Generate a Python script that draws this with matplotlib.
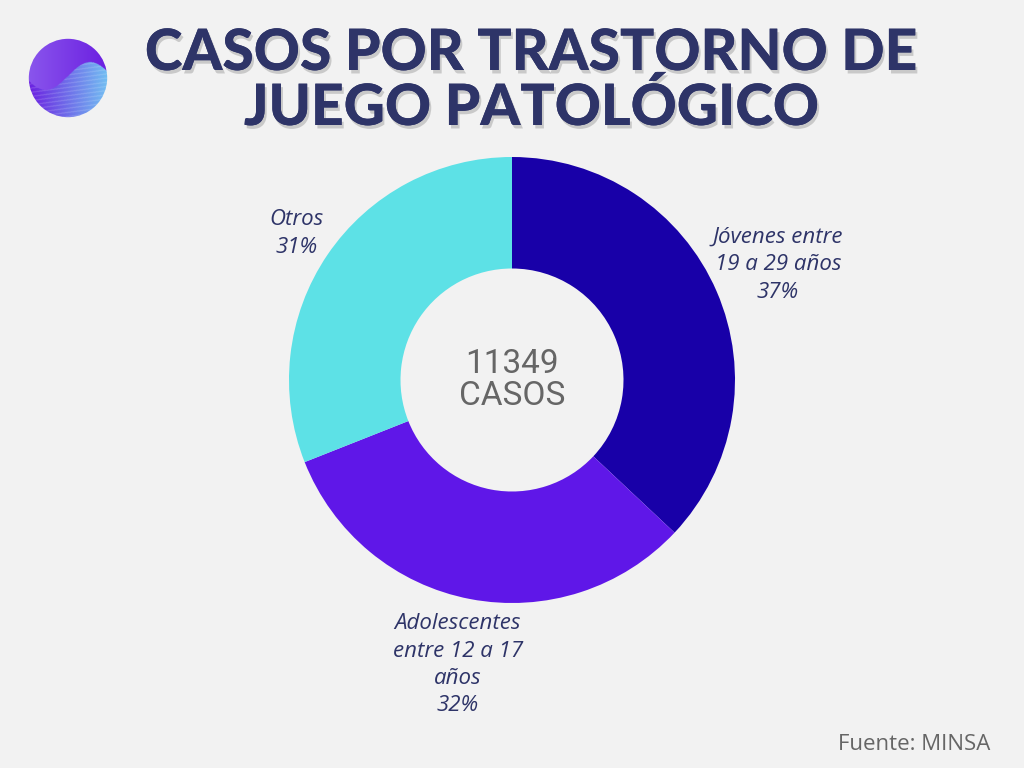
import numpy as np
import matplotlib
matplotlib.use("Agg")
import matplotlib.pyplot as plt
import matplotlib.patheffects as pe
from matplotlib.patches import Circle

# datos
categorias = ["Jóvenes entre\n19 a 29 años", "Adolescentes\nentre 12 a 17\naños", "Otros"]
porcentajes = [37, 32, 31]
colores = ["#1800A8", "#5F17E8", "#5DE1E6"]
total_casos = 11349
dist_etiquetas = [1.30, 1.30, 1.17]

BG = "#F2F2F2"
AZUL = "#2E3468"
GRIS = "#666666"

W, H = 1024, 768
fig = plt.figure(figsize=(W / 100, H / 100), dpi=100, facecolor=BG)

# ─── título ───
sombra = [pe.withSimplePatchShadow(offset=(1.5, -2.5), shadow_rgbFace="#999999", alpha=0.45),
          pe.Normal()]
for i, linea in enumerate(["CASOS POR TRASTORNO DE", "JUEGO PATOLÓGICO"]):
    fig.text(532 / W, 1 - (70 + 55 * i) / H, linea, ha="center", va="baseline",
             fontsize=41, fontweight="black", family=["Lato", "DejaVu Sans"],
             color=AZUL, path_effects=sombra)

# ─── logo (esfera con degradado) ───
ax_logo = fig.add_axes([28 / W, 1 - 118 / H, 80 / W, 80 / H])
ax_logo.set_facecolor("none")
ax_logo.axis("off")
yy, xx = np.mgrid[-1:1:200j, -1:1:200j]
onda = 0.35 * np.sin(xx * np.pi * 0.9) + 0.05
t = np.clip((xx + 1) / 2, 0, 1)
morado = np.array([0.42, 0.12, 0.88])
lila = np.array([0.62, 0.48, 0.96])
celeste = np.array([0.45, 0.75, 0.95])
img = np.zeros((200, 200, 3))
arriba = (-yy) > onda
for c in range(3):
    img[..., c] = np.where(arriba,
                           lila[c] * (1 - t) * 0.6 + morado[c] * (0.4 + 0.6 * t),
                           morado[c] * (1 - t) + celeste[c] * t)
# líneas finas tipo malla sobre la onda
rayas = (np.sin(yy * 60 + xx * 8) > 0.6) & ~arriba
img[rayas] = img[rayas] * 0.85 + 0.15
im = ax_logo.imshow(np.clip(img, 0, 1), extent=(-1, 1, -1, 1), origin="upper")
clip = Circle((0, 0), 0.98, transform=ax_logo.transData)
im.set_clip_path(clip)
ax_logo.set_xlim(-1, 1)
ax_logo.set_ylim(-1, 1)

# ─── dona ───
R = 223
cx, cy = 512, 380
ax = fig.add_axes([(cx - R) / W, 1 - (cy + R) / H, 2 * R / W, 2 * R / H])
ax.set_facecolor("none")
wedges, _ = ax.pie(porcentajes, colors=colores, startangle=90, counterclock=False,
                   radius=1, wedgeprops=dict(width=0.5, linewidth=0))
ax.set_xlim(-1, 1)
ax.set_ylim(-1, 1)
ax.set_aspect("equal")
ax.axis("off")

for w, cat, p, d in zip(wedges, categorias, porcentajes, dist_etiquetas):
    ang = np.deg2rad((w.theta1 + w.theta2) / 2)
    ax.text(d * np.cos(ang), d * np.sin(ang), f"{cat}\n{p}%", ha="center", va="center",
            fontsize=16, style="italic", color=AZUL, linespacing=1.4,
            family=["Open Sans", "DejaVu Sans"], fontweight="normal", clip_on=False)

ax.text(0, 0, f"{total_casos}\nCASOS", ha="center", va="center", fontsize=24,
        color=GRIS, linespacing=1.0, fontweight="normal",
        family=["Roboto", "DejaVu Sans"])

# ─── fuente ───
fig.text(990 / W, 1 - 744 / H, "Fuente: MINSA", ha="right", va="center",
         fontsize=16, color=GRIS, family=["Open Sans", "DejaVu Sans"])

fig.savefig("out.png", dpi=100, facecolor=BG)
